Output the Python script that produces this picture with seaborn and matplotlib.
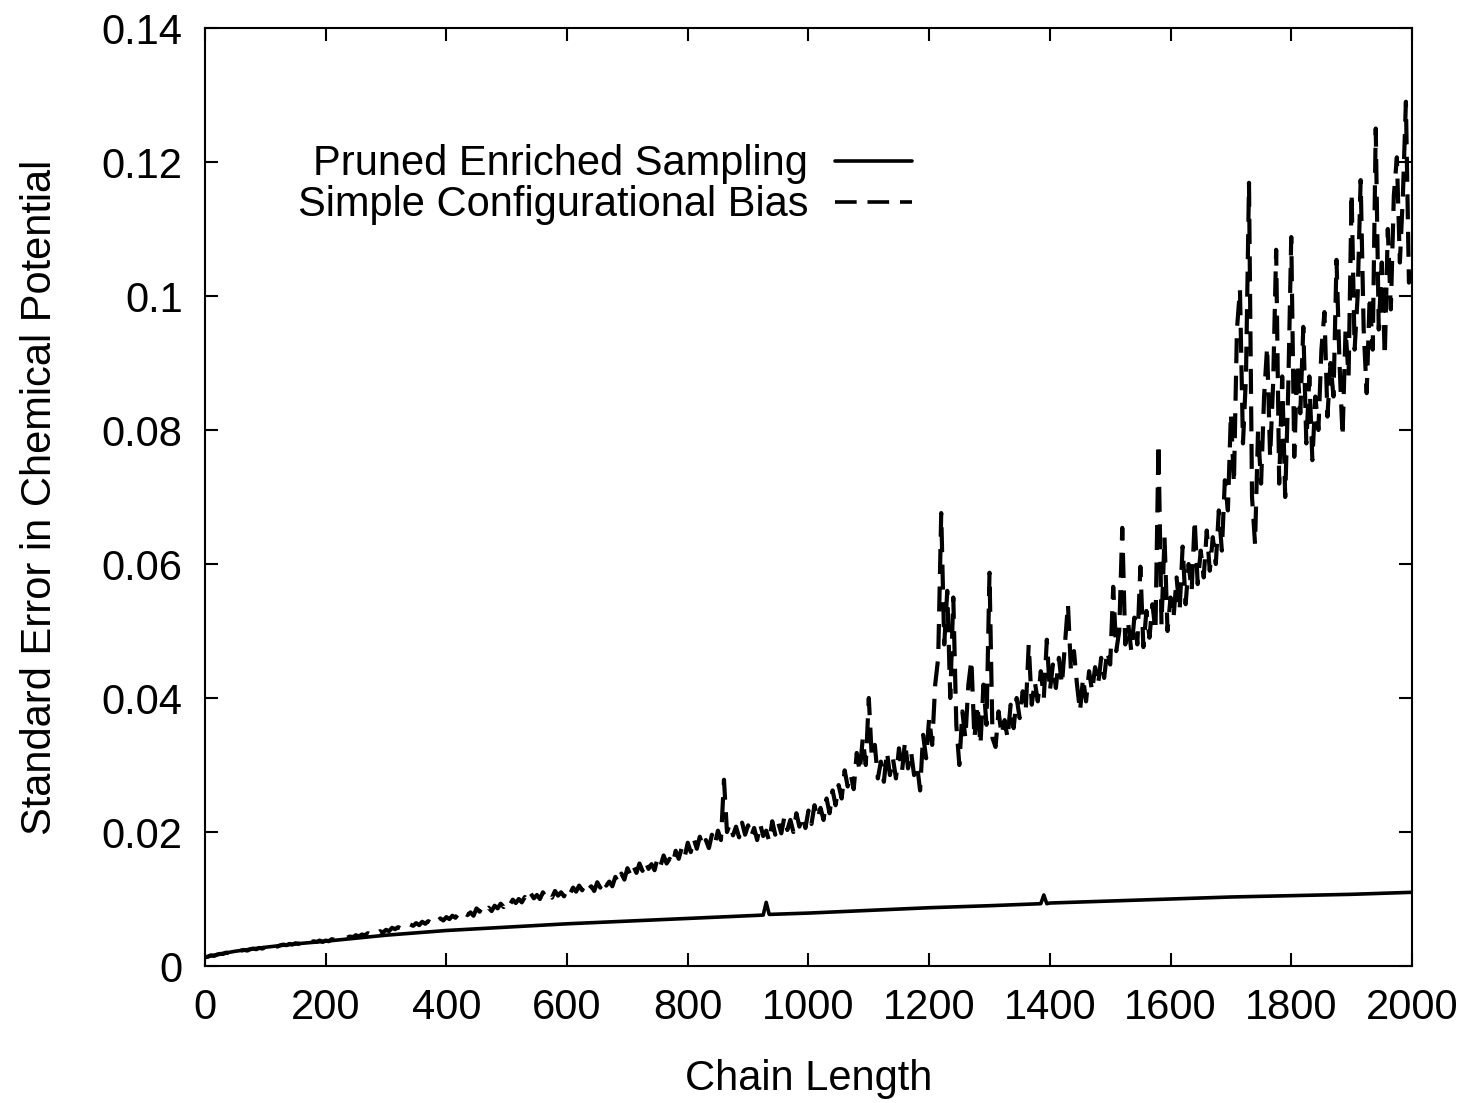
import numpy as np
import pandas as pd
import matplotlib
matplotlib.use("Agg")
import matplotlib.pyplot as plt
import seaborn as sns

# Pruned Enriched Sampling (solid)
pes_x = [0, 25, 50, 100, 150, 200, 300, 400, 500, 600, 700, 800, 900, 925, 930, 935,
         1000, 1100, 1200, 1300, 1385, 1390, 1395, 1400, 1500, 1600, 1700, 1800, 1900, 2000]
pes_y = [0.0013, 0.0018, 0.0022, 0.0028, 0.0033, 0.0037, 0.0046, 0.0053, 0.0058, 0.0063,
         0.0067, 0.0071, 0.0075, 0.0076, 0.0095, 0.0077, 0.0079, 0.0083, 0.0087, 0.0090,
         0.0093, 0.0106, 0.0093, 0.0094, 0.0097, 0.0100, 0.0103, 0.0105, 0.0107, 0.0110]

# Simple Configurational Bias (dashed), chain length 0..2000 every 5
scb_x = list(range(0, 2001, 5))
scb_y = [
    # 0-95
    0.0013, 0.0014, 0.0016, 0.0015, 0.0017, 0.0018, 0.0018, 0.0020, 0.0019, 0.0021,
    0.0022, 0.0021, 0.0023, 0.0024, 0.0023, 0.0025, 0.0026, 0.0025, 0.0027, 0.0026,
    # 100-195
    0.0028, 0.0027, 0.0029, 0.0030, 0.0029, 0.0031, 0.0032, 0.0031, 0.0033, 0.0032,
    0.0034, 0.0033, 0.0035, 0.0034, 0.0036, 0.0035, 0.0037, 0.0036, 0.0038, 0.0036,
    # 200-295
    0.0038, 0.0037, 0.0040, 0.0039, 0.0041, 0.0040, 0.0043, 0.0042, 0.0044, 0.0043,
    0.0046, 0.0044, 0.0047, 0.0046, 0.0049, 0.0047, 0.0051, 0.0049, 0.0052, 0.0050,
    # 300-395
    0.0054, 0.0052, 0.0057, 0.0055, 0.0058, 0.0056, 0.0060, 0.0058, 0.0062, 0.0060,
    0.0064, 0.0061, 0.0066, 0.0063, 0.0067, 0.0064, 0.0069, 0.0066, 0.0071, 0.0068,
    # 400-495
    0.0073, 0.0070, 0.0075, 0.0072, 0.0078, 0.0074, 0.0079, 0.0076, 0.0080, 0.0075,
    0.0086, 0.0081, 0.0089, 0.0083, 0.0087, 0.0082, 0.0090, 0.0086, 0.0093, 0.0088,
    # 500-595
    0.0096, 0.0091, 0.0099, 0.0094, 0.0100, 0.0095, 0.0103, 0.0097, 0.0108, 0.0101,
    0.0106, 0.0100, 0.0110, 0.0103, 0.0108, 0.0102, 0.0112, 0.0105, 0.0110, 0.0104,
    # 600-695
    0.0115, 0.0108, 0.0117, 0.0111, 0.0120, 0.0113, 0.0122, 0.0114, 0.0119, 0.0112,
    0.0125, 0.0117, 0.0129, 0.0120, 0.0126, 0.0119, 0.0133, 0.0124, 0.0138, 0.0129,
    # 700-795
    0.0146, 0.0136, 0.0149, 0.0139, 0.0153, 0.0142, 0.0156, 0.0145, 0.0152, 0.0143,
    0.0161, 0.0150, 0.0165, 0.0153, 0.0160, 0.0152, 0.0172, 0.0160, 0.0176, 0.0163,
    # 800-895
    0.0184, 0.0170, 0.0190, 0.0175, 0.0193, 0.0178, 0.0188, 0.0176, 0.0196, 0.0182,
    0.0202, 0.0188, 0.0278, 0.0200, 0.0212, 0.0195, 0.0208, 0.0192, 0.0214, 0.0196,
    # 900-995
    0.0210, 0.0193, 0.0206, 0.0188, 0.0212, 0.0194, 0.0202, 0.0186, 0.0216, 0.0196,
    0.0214, 0.0198, 0.0222, 0.0203, 0.0218, 0.0200, 0.0228, 0.0208, 0.0224, 0.0206,
    # 1000-1095
    0.0232, 0.0212, 0.0240, 0.0220, 0.0236, 0.0218, 0.0250, 0.0228, 0.0262, 0.0240,
    0.0270, 0.0250, 0.0292, 0.0268, 0.0286, 0.0264, 0.0318, 0.0290, 0.0340, 0.0300,
    # 1100-1195
    0.0400, 0.0310, 0.0330, 0.0280, 0.0305, 0.0275, 0.0320, 0.0285, 0.0310, 0.0280,
    0.0325, 0.0290, 0.0335, 0.0295, 0.0320, 0.0285, 0.0300, 0.0262, 0.0345, 0.0310,
    # 1200-1295
    0.0370, 0.0330, 0.0420, 0.0460, 0.0676, 0.0480, 0.0560, 0.0400, 0.0550, 0.0360,
    0.0300, 0.0380, 0.0340, 0.0420, 0.0457, 0.0340, 0.0390, 0.0330, 0.0420, 0.0360,
    # 1300-1395
    0.0587, 0.0340, 0.0327, 0.0380, 0.0345, 0.0367, 0.0340, 0.0390, 0.0355, 0.0400,
    0.0370, 0.0410, 0.0380, 0.0480, 0.0390, 0.0425, 0.0395, 0.0440, 0.0400, 0.0487,
    # 1400-1495
    0.0410, 0.0450, 0.0415, 0.0460, 0.0420, 0.0480, 0.0540, 0.0440, 0.0470, 0.0420,
    0.0380, 0.0430, 0.0395, 0.0440, 0.0410, 0.0446, 0.0420, 0.0460, 0.0430, 0.0470,
    # 1500-1595
    0.0450, 0.0566, 0.0470, 0.0500, 0.0654, 0.0480, 0.0510, 0.0470, 0.0520, 0.0480,
    0.0596, 0.0476, 0.0530, 0.0490, 0.0540, 0.0500, 0.0780, 0.0510, 0.0640, 0.0500,
    # 1600-1695
    0.0550, 0.0520, 0.0580, 0.0530, 0.0626, 0.0540, 0.0600, 0.0560, 0.0666, 0.0570,
    0.0620, 0.0580, 0.0650, 0.0590, 0.0640, 0.0600, 0.0680, 0.0620, 0.0725, 0.0680,
    # 1700-1795
    0.0825, 0.0720, 0.0950, 0.1010, 0.0780, 0.0880, 0.1169, 0.0700, 0.0630, 0.0800,
    0.0720, 0.0850, 0.0924, 0.0760, 0.0870, 0.1069, 0.0720, 0.0880, 0.0700, 0.0860,
    # 1800-1895
    0.1088, 0.0760, 0.0900, 0.0825, 0.0954, 0.0780, 0.0880, 0.0755, 0.0850, 0.0800,
    0.0920, 0.0976, 0.0820, 0.0900, 0.0850, 0.1054, 0.0900, 0.0790, 0.0950, 0.0880,
    # 1900-1995
    0.1154, 0.0920, 0.1000, 0.1173, 0.0950, 0.0855, 0.1000, 0.0920, 0.1250, 0.0950,
    0.1050, 0.0910, 0.1100, 0.0980, 0.1150, 0.1207, 0.1050, 0.1150, 0.1290, 0.1020,
    # 2000
    0.1050]

x_ticks = [0, 200, 400, 600, 800, 1000, 1200, 1400, 1600, 1800, 2000]
y_ticks = [0, 0.02, 0.04, 0.06, 0.08, 0.1, 0.12, 0.14]
y_ticklabels = ["0", "0.02", "0.04", "0.06", "0.08", "0.1", "0.12", "0.14"]

lab_pes = "Pruned Enriched Sampling"
lab_scb = "Simple Configurational Bias"

df = pd.concat([
    pd.DataFrame({"x": pes_x, "y": pes_y, "method": lab_pes}),
    pd.DataFrame({"x": scb_x, "y": scb_y, "method": lab_scb}),
], ignore_index=True)

sns.set_theme(style="ticks")
plt.rcParams["font.family"] = ["Liberation Sans", "DejaVu Sans"]
plt.rcParams["font.size"] = 30
plt.rcParams["text.color"] = "black"
plt.rcParams["axes.labelcolor"] = "black"

fig = plt.figure(figsize=(14.63, 11.03), dpi=100)
ax = fig.add_axes([0.1401, 0.1242, 0.8250, 0.8504])

sns.lineplot(data=df, x="x", y="y", hue="method", style="method",
             palette={lab_pes: "black", lab_scb: "black"},
             dashes={lab_pes: "", lab_scb: (6, 3)},
             hue_order=[lab_pes, lab_scb], style_order=[lab_pes, lab_scb],
             estimator=None, errorbar=None, lw=2.6, ax=ax)

# noisy dashed curve is a bit heavier in the original
for ln in ax.lines:
    if ln.get_label() == "_child1" or len(ln.get_xdata()) == len(scb_x):
        ln.set_linewidth(3.0)

ax.set_xlim(0, 2000)
ax.set_ylim(0, 0.14)
ax.set_xticks(x_ticks)
ax.set_xticklabels([str(t) for t in x_ticks])
ax.set_yticks(y_ticks)
ax.set_yticklabels(y_ticklabels)
ax.tick_params(direction="in", length=9.5, width=1.5, top=True, right=True,
               labelsize=30, pad=16, colors="black")
for s in ax.spines.values():
    s.set_linewidth(1.5)
    s.set_color("black")

ax.set_xlabel("Chain Length", fontsize=30, labelpad=22, color="black")
ax.set_ylabel("Standard Error in Chemical Potential", fontsize=30, labelpad=30,
              color="black")

handles, labels = ax.get_legend_handles_labels()
leg = ax.legend(handles, labels, loc="upper right", bbox_to_anchor=(0.586, 0.876),
                frameon=False, markerfirst=False, fontsize=30, borderpad=0,
                borderaxespad=0, handlelength=1.85, handletextpad=0.65,
                labelspacing=0.02)
for t in leg.get_texts():
    t.set_color("black")

fig.savefig("out.png", dpi=100)
